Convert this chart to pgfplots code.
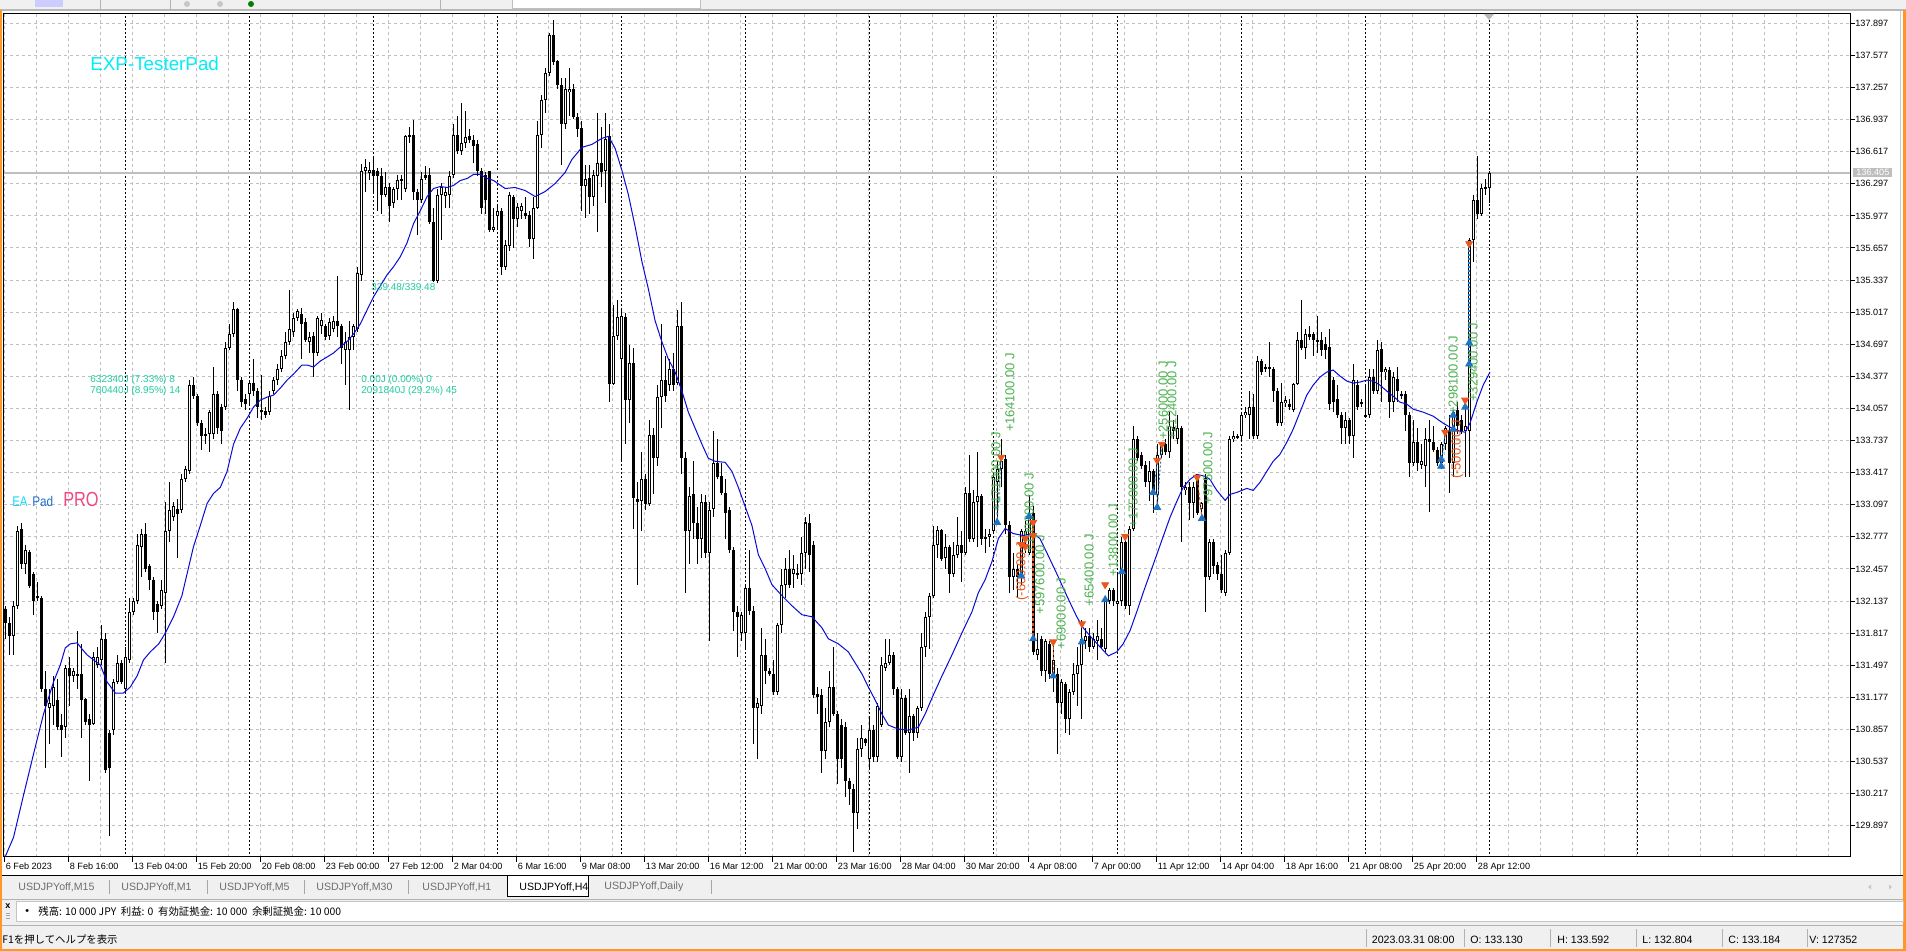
\documentclass[border=0pt]{standalone}
\usepackage{pgfplots}
\usepackage{pgfplotstable}
\pgfplotsset{compat=1.18}
\usepackage{fontspec}
\setmainfont{Liberation Sans}
\newfontfamily\cjk{Noto Sans CJK JP}
\definecolor{gridc}{RGB}{192,192,192}
\definecolor{mablue}{RGB}{10,10,215}
\definecolor{tblue}{RGB}{30,115,195}
\definecolor{torange}{RGB}{232,88,30}
\definecolor{tgreen}{RGB}{76,178,80}
\definecolor{expcyan}{RGB}{0,238,248}
\definecolor{statc}{RGB}{30,205,160}
\definecolor{padblue}{RGB}{35,110,200}
\definecolor{eacyan}{RGB}{20,215,250}
\definecolor{propink}{RGB}{242,72,130}
\definecolor{winorange}{RGB}{255,150,40}
\definecolor{barbg}{RGB}{240,240,240}
\definecolor{tabtxt}{RGB}{110,110,110}
\definecolor{pricebox}{RGB}{190,190,190}
\newcommand\tickfont{\fontsize{4.55}{5.5}\selectfont}
\newcommand\uifont{\fontsize{5.3}{6.5}\selectfont}
\pgfplotstableread{
i o h l c
0 132.06 132.09 131.76 131.92
1 131.92 131.98 131.60 131.79
2 131.79 132.14 131.60 132.09
3 132.09 132.89 132.06 132.84
4 132.86 132.92 132.46 132.51
5 132.51 132.70 132.41 132.65
6 132.63 132.65 132.27 132.29
7 132.41 132.43 132.00 132.14
8 132.19 132.33 132.14 132.17
9 132.17 132.19 131.23 131.26
10 131.26 131.44 130.47 131.09
11 131.07 131.26 130.71 131.12
12 131.09 131.39 130.90 131.28
13 131.15 131.36 130.85 130.88
14 130.90 131.01 130.58 130.85
15 130.88 131.50 130.77 131.47
16 131.47 131.58 131.09 131.39
17 131.39 131.47 131.33 131.44
18 131.39 131.84 131.26 131.41
19 131.41 131.71 130.77 131.15
20 131.16 131.17 130.90 130.93
21 130.96 131.01 130.34 130.90
22 130.91 131.63 130.90 131.58
23 131.50 131.68 131.47 131.58
24 131.55 131.90 131.50 131.76
25 131.76 131.82 130.42 130.45
26 130.82 130.85 129.80 130.47
27 130.85 131.36 130.80 131.33
28 131.33 131.60 131.31 131.52
29 131.52 131.55 131.31 131.33
30 131.26 131.68 131.23 131.58
31 131.55 132.17 131.52 132.03
32 132.03 132.17 132.00 132.14
33 132.14 132.81 132.11 132.70
34 132.68 132.86 132.38 132.81
35 132.81 132.92 132.43 132.46
36 132.49 132.51 132.25 132.35
37 132.35 132.38 131.95 132.03
38 132.11 132.14 131.82 132.03
39 132.09 132.35 132.06 132.25
40 132.22 133.13 131.52 132.84
41 132.84 133.32 132.73 133.05
42 132.97 133.13 132.94 133.08
43 133.05 133.16 132.57 133.00
44 133.05 133.40 133.02 133.35
45 133.35 133.48 133.32 133.45
46 133.43 134.34 133.40 134.29
47 134.29 134.37 134.15 134.18
48 134.18 134.20 133.88 133.91
49 133.91 133.94 133.64 133.78
50 133.80 133.86 133.70 133.78
51 133.80 134.04 133.62 134.02
52 133.80 134.47 133.75 134.20
53 134.20 134.23 133.80 133.86
54 134.07 134.10 133.70 133.83
55 134.07 134.72 134.04 134.66
56 134.66 134.90 134.64 134.80
57 134.80 135.12 134.77 135.05
58 135.05 135.06 134.23 134.34
59 134.34 134.37 134.07 134.12
60 134.15 134.20 134.04 134.10
61 134.20 134.34 134.10 134.31
62 134.31 134.55 134.18 134.23
63 134.23 134.26 133.96 134.07
64 134.04 134.39 133.94 134.02
65 134.03 134.07 133.96 133.99
66 134.02 134.23 133.99 134.18
67 134.23 134.37 134.20 134.34
68 134.34 134.50 134.29 134.45
69 134.45 134.64 134.42 134.58
70 134.58 134.82 134.55 134.72
71 134.72 135.24 134.69 134.85
72 134.82 135.01 134.77 134.96
73 134.96 135.05 134.93 135.03
74 135.00 135.06 134.55 134.90
75 134.92 134.96 134.72 134.74
76 134.72 134.82 134.61 134.77
77 134.78 134.82 134.37 134.61
78 134.61 134.98 134.58 134.96
79 134.88 135.01 134.80 134.94
80 134.88 134.90 134.74 134.77
81 134.78 134.96 134.74 134.92
82 134.85 134.98 134.82 134.93
83 134.93 135.38 134.77 134.88
84 134.88 134.90 134.50 134.66
85 134.64 134.82 134.29 134.72
86 134.64 134.93 134.04 134.77
87 134.77 134.90 134.64 134.88
88 134.85 135.47 134.82 135.41
89 135.39 136.49 135.33 136.43
90 136.42 136.54 136.22 136.46
91 136.41 136.51 136.33 136.44
92 136.44 136.57 136.22 136.38
93 136.43 136.46 136.03 136.38
94 136.38 136.46 136.00 136.19
95 136.19 136.41 136.17 136.27
96 136.27 136.30 135.92 136.08
97 136.11 136.27 136.06 136.25
98 136.25 136.38 136.14 136.33
99 136.33 136.38 136.14 136.35
100 136.25 136.78 136.22 136.77
101 136.76 136.86 136.70 136.78
102 136.78 136.93 136.14 136.22
103 136.22 136.25 135.79 136.14
104 136.14 136.41 136.11 136.35
105 136.38 136.47 136.33 136.35
106 136.38 136.46 135.90 135.92
107 135.92 136.06 135.32 135.33
108 135.33 136.25 135.31 136.19
109 136.19 136.30 135.74 136.27
110 136.18 136.27 136.06 136.22
111 136.19 136.43 136.06 136.38
112 136.38 136.89 136.35 136.78
113 136.78 136.97 136.59 136.62
114 136.62 137.10 136.59 136.70
115 136.70 137.02 136.65 136.76
116 136.77 136.84 136.70 136.73
117 136.73 136.78 136.51 136.67
118 136.69 136.73 136.38 136.43
119 136.43 136.46 136.00 136.06
120 136.38 136.41 136.00 136.14
121 136.43 136.43 135.82 135.84
122 135.84 136.06 135.82 135.87
123 135.98 136.08 135.84 136.03
124 136.03 136.06 135.39 135.47
125 135.47 135.74 135.44 135.69
126 135.68 136.22 135.63 136.19
127 136.17 136.19 135.66 135.95
128 135.95 136.11 135.87 136.07
129 136.03 136.11 135.95 136.08
130 136.01 136.17 135.95 135.98
131 135.99 136.03 135.67 135.75
132 135.75 136.17 135.55 136.06
133 136.06 136.92 136.05 136.78
134 136.78 137.18 136.65 137.13
135 137.13 137.45 137.00 137.40
136 137.40 137.80 137.37 137.78
137 137.78 137.93 137.48 137.51
138 137.52 137.53 137.24 137.28
139 137.28 137.35 136.49 136.89
140 136.89 137.35 136.84 137.24
141 137.21 137.45 136.97 137.24
142 137.24 137.29 136.94 136.96
143 136.96 137.00 136.76 136.84
144 136.85 136.92 136.03 136.28
145 136.28 136.49 135.96 136.35
146 136.35 136.49 136.00 136.17
147 136.17 136.43 136.08 136.38
148 136.38 137.00 135.82 136.51
149 136.51 136.86 136.27 136.42
150 136.43 137.00 136.11 136.74
151 136.77 136.89 134.12 134.30
152 134.30 135.09 134.29 134.78
153 134.78 135.14 134.74 134.97
154 134.55 135.04 133.53 134.98
155 134.97 135.01 133.70 134.14
156 134.14 134.69 133.91 134.51
157 134.51 134.66 132.86 133.16
158 133.16 133.32 132.30 133.13
159 133.13 133.62 132.84 133.35
160 133.35 133.40 133.05 133.11
161 133.11 133.94 133.08 133.79
162 133.79 133.86 133.21 133.56
163 133.56 134.29 133.48 134.17
164 134.17 134.90 133.86 134.34
165 134.34 134.58 134.12 134.18
166 134.29 134.55 134.23 134.45
167 134.45 134.61 134.23 134.29
168 134.31 135.04 134.29 134.88
169 134.88 135.12 133.40 133.56
170 133.56 133.62 132.22 132.84
171 132.84 133.27 132.51 133.19
172 133.21 133.53 132.76 132.92
173 132.92 133.08 132.51 132.76
174 132.76 133.21 132.57 133.13
175 133.13 133.19 132.57 132.62
176 132.62 133.13 131.74 133.05
177 133.05 133.83 132.97 133.51
178 133.51 133.75 133.35 133.37
179 133.38 133.51 133.19 133.21
180 133.22 133.35 132.76 133.02
181 133.04 133.08 132.62 132.65
182 132.65 132.68 131.84 132.03
183 132.03 132.09 131.58 131.98
184 131.82 132.03 131.74 132.00
185 131.82 132.31 131.66 132.27
186 132.27 132.65 132.00 132.04
187 132.04 132.09 130.71 131.07
188 131.07 131.17 130.56 131.12
189 131.09 131.87 131.01 131.60
190 131.60 131.76 131.31 131.44
191 131.44 131.47 131.39 131.41
192 131.41 131.55 131.20 131.23
193 131.23 131.92 131.20 131.90
194 131.90 132.46 131.82 132.30
195 132.30 132.57 132.17 132.46
196 132.46 132.65 132.27 132.30
197 132.41 132.60 132.27 132.46
198 132.42 132.51 132.36 132.40
199 132.41 132.78 132.30 132.62
200 132.62 132.97 132.46 132.92
201 132.92 133.00 132.43 132.60
202 132.70 132.74 131.17 131.20
203 131.21 131.28 131.01 131.18
204 131.20 131.26 130.42 130.64
205 130.64 131.07 130.56 130.93
206 130.93 131.44 130.88 131.28
207 131.28 131.68 130.99 131.01
208 131.01 131.04 130.31 130.56
209 130.90 130.96 130.47 130.56
210 130.88 130.93 130.18 130.34
211 130.34 130.37 130.10 130.26
212 130.26 130.31 129.64 130.02
213 130.02 130.77 129.86 130.66
214 130.66 130.90 130.58 130.77
215 130.76 130.77 130.69 130.72
216 130.56 130.99 130.45 130.85
217 130.85 130.90 130.53 130.58
218 130.58 131.12 130.53 131.09
219 130.90 131.58 130.88 131.50
220 131.47 131.76 131.44 131.52
221 131.52 131.76 131.50 131.60
222 131.60 131.63 131.20 131.26
223 131.26 131.28 130.56 130.58
224 130.58 131.26 130.53 131.17
225 131.17 131.20 130.80 130.82
226 130.82 131.26 130.42 130.99
227 130.99 131.01 130.74 130.82
228 130.82 131.09 130.77 131.07
229 131.07 131.82 131.04 131.68
230 131.68 132.03 131.58 131.98
231 131.98 132.22 131.66 132.19
232 132.19 132.89 132.17 132.70
233 132.70 132.89 132.57 132.85
234 132.85 132.86 132.54 132.56
235 132.57 132.81 132.46 132.68
236 132.68 132.70 132.22 132.41
237 132.41 132.73 132.38 132.60
238 132.60 132.97 132.57 132.70
239 132.70 132.84 132.33 132.62
240 132.62 133.27 132.60 133.21
241 133.21 133.59 132.73 132.76
242 132.76 133.24 132.73 133.13
243 133.13 133.62 132.68 133.19
244 133.19 133.21 132.70 132.76
245 132.78 132.86 132.62 132.76
246 132.78 132.86 132.68 132.81
247 132.84 133.42 132.81 133.37
248 133.32 133.53 132.92 133.45
249 133.45 133.75 133.27 133.53
250 133.55 133.59 132.81 132.90
251 132.90 132.94 132.22 132.38
252 132.38 132.62 132.25 132.46
253 132.46 132.51 132.17 132.38
254 132.38 132.86 132.30 132.84
255 132.76 132.94 132.62 132.84
256 132.62 133.19 132.60 133.00
257 133.02 133.08 131.60 131.63
258 131.60 131.82 131.55 131.66
259 131.76 131.79 131.39 131.44
260 131.44 131.76 131.33 131.74
261 131.71 131.74 131.36 131.41
262 131.41 131.74 131.23 131.55
263 131.41 131.47 130.61 131.12
264 131.12 131.36 131.01 131.33
265 131.31 131.33 130.82 130.96
266 130.96 131.26 130.80 131.23
267 131.23 131.52 131.20 131.41
268 131.41 131.68 131.09 131.50
269 131.50 131.95 130.96 131.76
270 131.74 131.87 131.66 131.79
271 131.79 131.87 131.63 131.68
272 131.68 131.82 131.66 131.76
273 131.74 131.95 131.55 131.79
274 131.76 131.87 131.66 131.68
275 131.66 132.17 131.63 132.14
276 132.14 132.27 132.11 132.25
277 132.25 132.27 132.09 132.14
278 132.11 132.41 131.66 132.14
279 132.14 132.78 132.09 132.73
280 132.73 132.78 132.06 132.09
281 132.09 132.89 132.00 132.86
282 132.86 133.88 132.84 133.75
283 133.75 133.78 133.53 133.56
284 133.59 133.62 133.45 133.48
285 133.49 133.53 133.27 133.32
286 133.32 133.53 133.13 133.43
287 133.43 133.45 133.02 133.19
288 133.19 133.70 133.08 133.59
289 133.59 133.72 133.56 133.70
290 133.70 133.75 133.59 133.62
291 133.62 134.02 133.56 133.88
292 133.87 133.94 133.75 133.83
293 133.75 133.99 133.70 133.86
294 133.86 133.88 132.73 133.27
295 133.24 133.32 133.19 133.27
296 133.27 133.32 132.94 133.11
297 133.11 133.32 132.97 133.27
298 133.37 133.40 133.00 133.02
299 133.05 133.13 132.97 133.11
300 133.36 133.40 132.03 132.38
301 132.38 132.76 132.35 132.73
302 132.73 132.76 132.41 132.49
303 132.50 132.53 132.35 132.41
304 132.41 132.60 132.22 132.25
305 132.22 132.65 132.19 132.62
306 132.62 133.78 132.60 133.75
307 133.75 133.83 133.72 133.78
308 133.76 133.80 133.75 133.78
309 133.78 134.02 133.72 133.99
310 133.99 134.07 133.96 134.02
311 133.99 134.23 133.75 134.07
312 134.07 134.20 133.75 133.78
313 133.78 134.58 133.75 134.53
314 134.53 134.55 134.39 134.42
315 134.47 134.50 134.42 134.45
316 134.45 134.72 134.37 134.47
317 134.45 134.47 134.12 134.23
318 134.23 134.26 133.88 133.91
319 133.91 134.31 133.88 134.12
320 134.11 134.18 134.07 134.14
321 134.10 134.15 134.04 134.07
322 134.04 134.31 134.02 134.30
323 134.30 134.82 134.29 134.74
324 134.74 135.14 134.64 134.66
325 134.66 134.85 134.55 134.80
326 134.80 134.88 134.74 134.77
327 134.80 134.82 134.58 134.74
328 134.72 134.98 134.61 134.74
329 134.74 134.82 134.58 134.64
330 134.70 134.77 134.55 134.64
331 134.67 134.85 134.04 134.10
332 134.34 134.37 134.02 134.12
333 134.15 134.29 133.96 133.99
334 133.99 134.02 133.70 133.86
335 133.86 134.02 133.70 133.94
336 133.94 133.96 133.70 133.78
337 133.78 134.50 133.56 134.34
338 134.29 134.34 134.04 134.07
339 134.12 134.15 134.07 134.10
340 133.97 134.29 133.96 133.99
341 133.99 134.45 133.96 134.37
342 134.37 134.45 134.20 134.23
343 134.23 134.74 134.20 134.64
344 134.65 134.72 134.12 134.42
345 134.42 134.47 134.34 134.45
346 134.44 134.47 133.96 134.12
347 134.12 134.42 134.02 134.37
348 134.35 134.47 134.12 134.23
349 134.18 134.23 134.15 134.20
350 134.20 134.23 133.83 133.99
351 133.99 134.02 133.37 133.51
352 133.51 133.94 133.48 133.72
353 133.72 133.86 133.43 133.51
354 133.49 133.70 133.45 133.53
355 133.48 133.86 133.27 133.75
356 133.75 133.94 133.02 133.72
357 133.72 133.88 133.62 133.64
358 133.64 133.67 133.48 133.51
359 133.51 133.72 133.45 133.70
360 133.70 133.88 133.64 133.86
361 133.83 133.99 133.21 133.51
362 133.51 134.04 133.37 134.02
363 134.04 134.12 133.80 133.88
364 133.94 133.99 133.80 133.83
365 133.83 134.12 133.37 133.88
366 133.83 135.76 133.37 135.74
367 135.74 136.19 135.52 136.14
368 136.14 136.57 135.95 136.00
369 136.00 136.30 135.98 136.26
370 136.26 136.35 136.19 136.25
371 136.26 136.43 136.11 136.41
}\candles
\begin{document}
\begin{tikzpicture}[x=0.5pt,y=0.5pt]
\useasboundingbox (0,0) rectangle (1906,951);
\fill[white] (0,0) rectangle (1906,951);
% top toolbar strip
\fill[barbg] (0,941) rectangle (1906,951);
\fill[gray!55] (0,939.5) rectangle (1906,941.5);
\fill[blue!20] (35,944) rectangle (63,951);
\foreach \xx in {100,170,440} {\draw[gray!60,line width=0.5pt] (\xx,942) -- (\xx,951);}
\fill[gray!45] (187,947) circle (3); \fill[gray!45] (220,947) circle (3); \fill[green!50!black] (251,947) circle (3);
\fill[white] (512,942) rectangle (700,951); \draw[gray!50,line width=0.5pt] (512,942) rectangle (700,951);
% window borders
\fill[winorange] (0,0) rectangle (2,941);
\fill[winorange] (1903,0) rectangle (1906,941);
\fill[winorange] (0,0) rectangle (1906,2);
\draw[gray!40,line width=0.5pt] (1900,75) -- (1900,940);
\begin{axis}[
  at={(2pt,47pt)}, anchor=south west,
  scale only axis, width=923pt, height=421.5pt,
  xmin=-0.375, xmax=461.1, ymin=129.585, ymax=137.990,
  axis line style={black, line width=0.5pt},
  tick align=outside, major tick length=2.5pt, minor tick length=0pt,
  xtick pos=left, ytick pos=right, yticklabel pos=right,
  tick style={black, line width=0.5pt},
  xtick={-0.25,15.75,31.75,47.75,63.75,79.75,95.75,111.75,127.75,143.75,159.75,175.75,191.75,207.75,223.75,239.75,255.75,271.75,287.75,303.75,319.75,335.75,351.75,367.75},
  xticklabels={6 Feb 2023,8 Feb 16:00,13 Feb 04:00,15 Feb 20:00,20 Feb 08:00,23 Feb 00:00,27 Feb 12:00,2 Mar 04:00,6 Mar 16:00,9 Mar 08:00,13 Mar 20:00,16 Mar 12:00,21 Mar 00:00,23 Mar 16:00,28 Mar 04:00,30 Mar 20:00,4 Apr 08:00,7 Apr 00:00,11 Apr 12:00,14 Apr 04:00,18 Apr 16:00,21 Apr 08:00,25 Apr 20:00,28 Apr 12:00},
  minor xtick={-0.25,7.75,...,455.75},
  ytick={129.897,130.217,130.537,130.857,131.177,131.497,131.817,132.137,132.457,132.777,133.097,133.417,133.737,134.057,134.377,134.697,135.017,135.337,135.657,135.977,136.297,136.617,136.937,137.257,137.577,137.897},
  yticklabels={129.897,130.217,130.537,130.857,131.177,131.497,131.817,132.137,132.457,132.777,133.097,133.417,133.737,134.057,134.377,134.697,135.017,135.337,135.657,135.977,136.297,136.617,136.937,137.257,137.577,137.897},
  xminorgrids=true, xmajorgrids=false, ymajorgrids=true,
  minor grid style={gridc, line width=0.5pt, dash pattern=on 1.5pt off 1.5pt},
  major grid style={gridc, line width=0.5pt, dash pattern=on 1.5pt off 1.5pt},
  xticklabel style={anchor=north west, inner sep=0pt, font=\tickfont, xshift=0.5pt, yshift=-0.5pt},
  yticklabel style={anchor=west, inner sep=0pt, font=\tickfont, xshift=0pt},
]
% period separators
\pgfplotsinvokeforeach{30.1,61.0,91.9,122.9,153.9,184.9,215.9,247.0,277.9,309.0,339.9,370.9,407.9}{
  \draw[black, line width=0.5pt, dash pattern=on 1pt off 1pt] (axis cs:#1,129.5) -- (axis cs:#1,138.1);
}
% bid line
\addplot[pricebox, line width=0.75pt, forget plot] coordinates {(-0.375,136.405) (461.1,136.405)};
% wicks
\addplot[draw=none, no markers, forget plot, error bars/.cd, y dir=both, y explicit, error mark=none,
  error bar style={draw=black, solid, line width=0.5pt}]
  table[x=i, y expr={(\thisrow{h}+\thisrow{l})/2}, y error expr={(\thisrow{h}-\thisrow{l})/2}] {\candles};
% bodies
\addplot[draw=none, no markers, forget plot, error bars/.cd, y dir=both, y explicit, error mark=none,
  error bar style={draw=black, solid, line width=1.5pt}]
  table[x=i, y expr={(\thisrow{o}+\thisrow{c})/2}, y error expr={max(abs(\thisrow{c}-\thisrow{o})/2,0.006)}] {\candles};
% hollow interior of bullish candles
\addplot[draw=none, no markers, forget plot, error bars/.cd, y dir=both, y explicit, error mark=none,
  error bar style={draw=white, solid, line width=0.5pt}]
  table[x=i, y expr={(\thisrow{o}+\thisrow{c})/2}, y error expr={(\thisrow{c}>\thisrow{o}) ? max((\thisrow{c}-\thisrow{o})/2-0.01,0) : 0}] {\candles};
% moving average
\addplot[mablue, line width=0.5pt, forget plot] coordinates {
(-0.05,129.59) (2.0,129.78) (4.5,130.20) (7.0,130.61) (9.5,131.01) (12.0,131.33) (13.7,131.50) (14.95,131.67) (16.2,131.71) (17.9,131.72) (19.1,131.66) (20.4,131.60) (22.0,131.55) (23.7,131.50) (25.4,131.33) (27.45,131.22) (29.5,131.22) (31.2,131.28) (32.9,131.39) (34.5,131.55) (36.2,131.63) (38.3,131.71) (40.0,131.82) (42.0,131.98) (44.1,132.19) (45.4,132.41) (47.0,132.68) (48.7,132.89) (50.4,133.11) (52.0,133.21) (53.7,133.27) (55.4,133.43) (57.0,133.70) (58.7,133.86) (60.4,133.96) (62.0,134.07) (63.7,134.14) (65.4,134.17) (67.0,134.19) (68.7,134.26) (70.4,134.34) (72.0,134.40) (74.1,134.49) (75.4,134.49) (77.0,134.47) (78.7,134.53) (80.4,134.57) (82.0,134.61) (83.7,134.67) (85.8,134.74) (87.0,134.80) (88.7,134.90) (90.4,135.04) (92.0,135.17) (93.7,135.28) (95.4,135.39) (97.0,135.47) (98.7,135.57) (100.4,135.71) (102.0,135.90) (103.7,136.03) (105.4,136.17) (107.0,136.25) (108.7,136.27) (110.4,136.26) (112.0,136.28) (113.7,136.33) (115.4,136.35) (117.0,136.39) (118.7,136.39) (120.4,136.35) (122.0,136.33) (124.9,136.25) (127.4,136.26) (129.9,136.23) (132.4,136.17) (134.9,136.22) (137.4,136.30) (139.9,136.41) (141.6,136.54) (144.1,136.66) (146.6,136.69) (149.1,136.75) (150.7,136.77) (152.4,136.65) (154.1,136.43) (155.7,136.19) (157.4,135.87) (159.1,135.52) (160.7,135.25) (162.4,134.93) (164.1,134.72) (165.7,134.55) (167.4,134.42) (169.1,134.23) (170.7,134.02) (172.4,133.86) (174.1,133.70) (175.7,133.56) (177.4,133.53) (179.9,133.52) (181.6,133.43) (183.2,133.27) (184.9,133.08) (186.6,132.89) (188.2,132.60) (189.9,132.46) (191.6,132.30) (194.1,132.19) (196.6,132.09) (199.1,132.00) (201.6,131.98) (204.1,131.87) (205.7,131.76) (208.2,131.71) (210.7,131.63) (212.4,131.52) (214.1,131.41) (215.7,131.28) (217.4,131.15) (219.1,131.01) (220.7,130.90) (223.2,130.86) (225.7,130.85) (228.2,130.88) (229.9,131.01) (231.6,131.17) (234.1,131.39) (236.6,131.60) (239.1,131.82) (241.6,132.03) (243.2,132.22) (244.9,132.35) (246.6,132.53) (248.2,132.76) (249.9,132.86) (251.9,132.81) (254.4,132.79) (256.9,132.81) (258.6,132.76) (260.3,132.62) (262.8,132.41) (265.3,132.19) (267.8,131.98) (269.4,131.87) (271.1,131.79) (273.6,131.68) (275.7,131.59) (277.8,131.63) (279.4,131.71) (281.1,131.84) (282.8,132.03) (284.4,132.22) (286.1,132.41) (287.8,132.60) (289.4,132.78) (291.1,132.97) (292.8,133.13) (294.4,133.27) (296.1,133.35) (297.8,133.40) (299.9,133.38) (301.1,133.35) (302.8,133.24) (304.9,133.14) (306.1,133.20) (307.8,133.22) (310.3,133.26) (311.9,133.24) (313.6,133.32) (315.3,133.43) (316.9,133.53) (318.6,133.60) (320.3,133.72) (321.9,133.85) (323.6,134.02) (325.3,134.19) (326.9,134.29) (328.6,134.37) (330.3,134.42) (331.9,134.44) (333.6,134.38) (335.3,134.33) (336.9,134.31) (338.6,134.32) (340.3,134.34) (341.9,134.33) (343.6,134.29) (345.3,134.23) (346.9,134.18) (348.6,134.12) (350.3,134.10) (351.9,134.05) (354.4,134.02) (356.9,133.98) (359.4,133.91) (361.1,133.87) (363.6,133.83) (364.9,133.82) (366.1,133.91) (367.8,134.12) (369.4,134.29) (371.1,134.42)
};
% trade connection lines
\addplot[tblue, line width=0.5pt, dash pattern=on 1pt off 1pt, forget plot] coordinates {(247.9,132.92) (248.9,133.57)};
\addplot[tblue, line width=0.5pt, dash pattern=on 1pt off 1pt, forget plot] coordinates {(286.9,133.22) (288.0,133.54)};
\addplot[tblue, line width=0.5pt, dash pattern=on 1pt off 1pt, forget plot] coordinates {(287.9,133.07) (289.1,133.70)};
\addplot[tblue, line width=0.5pt, dash pattern=on 1pt off 1pt, forget plot] coordinates {(358.9,133.48) (359.9,133.82)};
\addplot[tblue, line width=1pt, dash pattern=on 1pt off 1pt, forget plot] coordinates {(365.9,134.50) (365.9,135.70)};
\addplot[torange, line width=0.5pt, dash pattern=on 1.5pt off 1pt, forget plot] coordinates {(253.9,132.70) (253.9,132.39)};
\addplot[torange, line width=1pt, dash pattern=on 1.5pt off 1pt, forget plot] coordinates {(256.9,132.92) (256.9,131.76)};
\addplot[torange, line width=0.5pt, dash pattern=on 1.5pt off 1pt, forget plot] coordinates {(261.9,131.73) (261.9,131.39)};
\addplot[torange, line width=0.5pt, dash pattern=on 1.5pt off 1pt, forget plot] coordinates {(297.9,133.37) (299.1,132.96)};
% trade arrows
\addplot[only marks, mark=triangle*, mark size=2pt, color=tblue, forget plot] coordinates {
(247.9,132.92) (253.9,132.39) (255.9,132.98) (256.9,131.76) (261.9,131.39) (269.1,131.73) (274.9,132.15) (279.1,132.43) (286.9,133.22) (287.9,133.07) (299.1,132.96) (358.9,133.55) (358.9,133.48) (361.9,133.99) (361.9,133.85) (364.9,134.07) (365.9,134.50) (365.9,134.71)};
\addplot[only marks, mark=triangle*, mark options={rotate=180}, mark size=2pt, color=torange, forget plot] coordinates {
(248.9,133.57) (253.9,132.70) (254.9,132.76) (254.9,132.68) (256.9,132.92) (256.9,132.79) (261.9,131.73) (269.1,131.91) (274.9,132.30) (279.9,132.78) (287.9,133.54) (289.1,133.70) (297.9,133.37) (359.9,133.82) (364.9,134.14) (365.9,135.70)};
% profit labels
\tikzset{rot/.style={rotate=90, anchor=west, inner sep=0pt, text=tgreen, font=\fontsize{6.5}{7}\selectfont},
         roto/.style={rotate=90, anchor=west, inner sep=0pt, text=torange, font=\fontsize{6.5}{7}\selectfont}}
\node[rot] at (axis cs:247.6,133.03) {+171000.00 J};
\node[rot] at (axis cs:251.1,133.82) {+164100.00 J};
\node[rot] at (axis cs:255.9,132.62) {+109800.00 J};
\node[rot] at (axis cs:258.6,132.00) {+597600.00 J};
\node[rot] at (axis cs:263.9,131.65) {+69000.00 J};
\node[rot] at (axis cs:270.9,132.08) {+65400.00 J};
\node[rot] at (axis cs:276.9,132.38) {+13800.00 J};
\node[rot] at (axis cs:281.9,132.87) {+175000.00 J};
\node[rot] at (axis cs:289.4,133.74) {+256000.00 J};
\node[rot] at (axis cs:291.6,133.74) {+212400.00 J};
\node[rot] at (axis cs:300.6,133.10) {+97500.00 J};
\node[rot] at (axis cs:361.9,133.99) {+298100.00 J};
\node[rot] at (axis cs:366.9,134.12) {+329400.00 J};
\node[roto] at (axis cs:254.1,132.14) {(-600.00 J};
\node[roto] at (axis cs:362.9,133.35) {(-500.00 J};
\end{axis}
% price label box
\node[fill=pricebox, text=white, inner sep=0pt, minimum width=19.5pt, minimum height=4.8pt, anchor=west, font=\tickfont] at (1853,778.5) {136.405};
\fill[gray!55] (1484,937) -- (1494,937) -- (1489,931) -- cycle;
% chart texts
\node[anchor=base west, inner sep=0pt, text=expcyan, font=\fontsize{9.4}{10}\selectfont] at (90,880) {EXP-TesterPad};
\node[anchor=base west, inner sep=0pt, text=eacyan, font=\fontsize{7}{8}\selectfont, xscale=0.82] at (12,444) {EA};
\node[anchor=base west, inner sep=0pt, text=padblue, font=\fontsize{7}{8}\selectfont, xscale=0.84] at (32,444) {Pad};
\node[anchor=base west, inner sep=0pt, text=propink, font=\fontsize{10.2}{11}\selectfont, xscale=0.8] at (63,444) {PRO};
\node[anchor=base west, inner sep=0pt, text=statc, font=\fontsize{5}{6}\selectfont] at (90,568) {632340J (7.33\%) 8};
\node[anchor=base west, inner sep=0pt, text=statc, font=\fontsize{5}{6}\selectfont] at (90,557) {760440J (8.95\%) 14};
\node[anchor=base west, inner sep=0pt, text=statc, font=\fontsize{5}{6}\selectfont] at (361,568) {0.00J (0.00\%) 0};
\node[anchor=base west, inner sep=0pt, text=statc, font=\fontsize{5}{6}\selectfont] at (361,557) {2091840J (29.2\%) 45};
\node[anchor=base west, inner sep=0pt, text=statc, font=\fontsize{5}{6}\selectfont] at (371,660) {339.48/339.48};
% tab bar
\fill[barbg] (2,51) rectangle (1903,75);
\draw[black, line width=0.5pt] (2,75) -- (1903,75);
\draw[gray!60, line width=0.5pt] (2,51) -- (1903,51);
\fill[white] (507,54) rectangle (588,75);
\draw[black, line width=0.5pt] (507,75) -- (507,54) -- (588,54) -- (588,75);
\foreach \xx in {109,207,304,408,711} {\draw[gray!70, line width=0.5pt] (\xx,57) -- (\xx,71);}
\node[anchor=west, inner sep=0pt, text=tabtxt, font=\uifont] at (18,64) {USDJPYoff,M15};
\node[anchor=west, inner sep=0pt, text=tabtxt, font=\uifont] at (121,64) {USDJPYoff,M1};
\node[anchor=west, inner sep=0pt, text=tabtxt, font=\uifont] at (219,64) {USDJPYoff,M5};
\node[anchor=west, inner sep=0pt, text=tabtxt, font=\uifont] at (316,64) {USDJPYoff,M30};
\node[anchor=west, inner sep=0pt, text=tabtxt, font=\uifont] at (422,64) {USDJPYoff,H1};
\node[anchor=west, inner sep=0pt, text=black, font=\uifont] at (519,64) {USDJPYoff,H4};
\node[anchor=west, inner sep=0pt, text=tabtxt, font=\uifont] at (604,64) {USDJPYoff,Daily};
\fill[gray!45] (1868,64) -- (1871,66.5) -- (1871,61.5) -- cycle;
\fill[gray!45] (1892,64) -- (1889,66.5) -- (1889,61.5) -- cycle;
% terminal row
\fill[barbg] (2,25) rectangle (1903,51);
\fill[white] (16,29) rectangle (1903,49);
\draw[gray!45, line width=0.5pt] (16,29) rectangle (1903,49);
\node[inner sep=0pt, font=\fontsize{4.5}{5}\selectfont\bfseries] at (8,45) {x};
\foreach \yy in {33,35.5,38} {\draw[gray!70, line width=0.4pt] (6,\yy) -- (10,\yy);}
\node[anchor=west, inner sep=0pt, font=\uifont] at (25,39) {•};
\node[anchor=west, inner sep=0pt, font=\fontsize{5.2}{6}\selectfont\cjk] at (38,39) {残高: 10 000 JPY\ \ 利益: 0\ \ 有効証拠金: 10 000\ \ 余剰証拠金: 10 000};
% status bar
\fill[barbg] (2,2) rectangle (1903,25);
\draw[gray!60, line width=0.5pt] (2,25) -- (1903,25);
\node[anchor=west, inner sep=0pt, font=\fontsize{5.2}{6}\selectfont\cjk] at (2,11) {F1を押してヘルプを表示};
\foreach \xx in {1366.5,1464,1550.5,1636,1722,1807.5} {\draw[gray!60, line width=0.5pt] (\xx,4) -- (\xx,22);}
\node[anchor=west, inner sep=0pt, font=\uifont] at (1371.5,11) {2023.03.31 08:00};
\node[anchor=west, inner sep=0pt, font=\uifont] at (1470,11) {O: 133.130};
\node[anchor=west, inner sep=0pt, font=\uifont] at (1557,11) {H: 133.592};
\node[anchor=west, inner sep=0pt, font=\uifont] at (1642,11) {L: 132.804};
\node[anchor=west, inner sep=0pt, font=\uifont] at (1728,11) {C: 133.184};
\node[anchor=west, inner sep=0pt, font=\uifont] at (1809,11) {V: 127352};
\end{tikzpicture}
\end{document}
